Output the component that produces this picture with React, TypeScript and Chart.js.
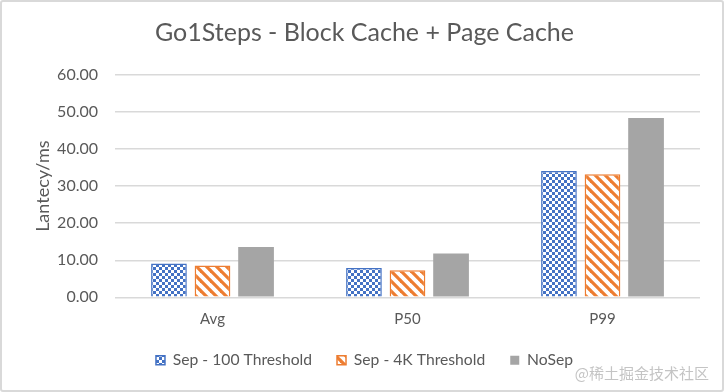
import React, { useEffect, useRef } from "react";
import { Chart, registerables } from "chart.js";

Chart.register(...registerables);

const categories = ["Avg", "P50", "P99"];
const seriesNames = ["Sep - 100 Threshold", "Sep - 4K Threshold", "NoSep"];
const sep100 = [9.1, 7.9, 34.1];
const sep4k = [8.6, 7.3, 33.2];
const noSep = [13.6, 11.8, 48.4];
const yTicks = [0, 10, 20, 30, 40, 50, 60];
const titleText = "Go1Steps - Block Cache + Page Cache";
const yTitle = "Lantecy/ms";
const watermark = "@稀土掘金技术社区";

const BLUE = "#4472C4";
const ORANGE = "#ED7D31";
const GRAY = "#A5A5A5";
const TEXT = "#595959";
const FONT = "Lato, 'Open Sans', sans-serif";

function checkerPattern(ctx: CanvasRenderingContext2D): CanvasPattern | string {
  const c = document.createElement("canvas");
  c.width = 6;
  c.height = 6;
  const g = c.getContext("2d")!;
  g.fillStyle = "#ffffff";
  g.fillRect(0, 0, 6, 6);
  g.fillStyle = BLUE;
  g.fillRect(0, 0, 3, 3);
  g.fillRect(3, 3, 3, 3);
  return ctx.createPattern(c, "repeat") || BLUE;
}

function stripePattern(ctx: CanvasRenderingContext2D): CanvasPattern | string {
  const s = 10;
  const c = document.createElement("canvas");
  c.width = s;
  c.height = s;
  const g = c.getContext("2d")!;
  g.fillStyle = "#ffffff";
  g.fillRect(0, 0, s, s);
  g.strokeStyle = ORANGE;
  g.lineWidth = 3.2;
  for (let k = -1; k <= 1; k++) {
    g.beginPath();
    g.moveTo(k * s - 1, -1);
    g.lineTo(k * s + s + 1, s + 1);
    g.stroke();
  }
  return ctx.createPattern(c, "repeat") || ORANGE;
}

const watermarkPlugin = {
  id: "watermark",
  afterDraw(chart: any) {
    const ctx = chart.ctx as CanvasRenderingContext2D;
    ctx.save();
    ctx.font = "15px 'Noto Sans CJK SC', sans-serif";
    ctx.fillStyle = "#c4c4c4";
    ctx.textAlign = "right";
    ctx.textBaseline = "middle";
    ctx.fillText(watermark, 709, 373);
    ctx.restore();
  },
};

export default function App() {
  const ref = useRef<HTMLCanvasElement | null>(null);

  useEffect(() => {
    document.body.style.margin = "0";
    const canvas = ref.current!;
    const ctx = canvas.getContext("2d")!;
    const chart = new Chart(canvas, {
      type: "bar",
      data: {
        labels: categories,
        datasets: [
          {
            label: seriesNames[0],
            data: sep100,
            backgroundColor: checkerPattern(ctx),
            borderColor: BLUE,
            borderWidth: 1.5,
          },
          {
            label: seriesNames[1],
            data: sep4k,
            backgroundColor: stripePattern(ctx),
            borderColor: ORANGE,
            borderWidth: 1.5,
          },
          {
            label: seriesNames[2],
            data: noSep,
            backgroundColor: GRAY,
            borderWidth: 0,
          },
        ],
      },
      plugins: [watermarkPlugin],
      options: {
        responsive: false,
        animation: false,
        devicePixelRatio: 1,
        layout: { padding: { left: 29, right: 24, top: 0, bottom: 14 } },
        datasets: {
          bar: { categoryPercentage: 0.67, barPercentage: 0.82 },
        },
        plugins: {
          title: {
            display: true,
            text: titleText,
            color: TEXT,
            font: { family: FONT, size: 25, weight: "normal" },
            padding: { top: 18, bottom: 27 },
          },
          legend: {
            display: true,
            position: "bottom",
            labels: {
              color: TEXT,
              font: { family: FONT, size: 15.7 },
              boxWidth: 9,
              boxHeight: 9,
              padding: 25,
            },
          },
          tooltip: { enabled: false },
        },
        scales: {
          x: {
            afterFit(scale: any) {
              scale.height = 30;
            },
            grid: { display: false, drawTicks: false, tickLength: 0 },
            border: { display: false },
            ticks: { color: TEXT, font: { family: FONT, size: 15 }, padding: 13 },
          },
          y: {
            min: 0,
            max: 60,
            afterFit(scale: any) {
              scale.width = 86;
            },
            afterBuildTicks(scale: any) {
              scale.ticks = yTicks.map((v) => ({ value: v }));
            },
            border: { display: false },
            grid: { color: "#D9D9D9", lineWidth: 1.5, drawTicks: false },
            ticks: {
              color: TEXT,
              font: { family: FONT, size: 16 },
              padding: 17,
              callback: (v: any) => Number(v).toFixed(2),
            },
            title: {
              display: true,
              text: yTitle,
              color: TEXT,
              font: { family: FONT, size: 18 },
              padding: { top: 3, bottom: 0 },
            },
          },
        },
      },
    });
    return () => chart.destroy();
  }, []);

  return (
    <div style={{ position: "relative", width: 724, height: 392, background: "#fff" }}>
      <canvas ref={ref} width={724} height={392} style={{ position: "absolute", left: 0, top: 0 }} />
      <div
        style={{
          position: "absolute",
          left: 0,
          top: 0,
          width: 724,
          height: 392,
          boxSizing: "border-box",
          border: "2px solid #D9D9D9",
          borderRadius: 3,
          pointerEvents: "none",
        }}
      />
    </div>
  );
}
